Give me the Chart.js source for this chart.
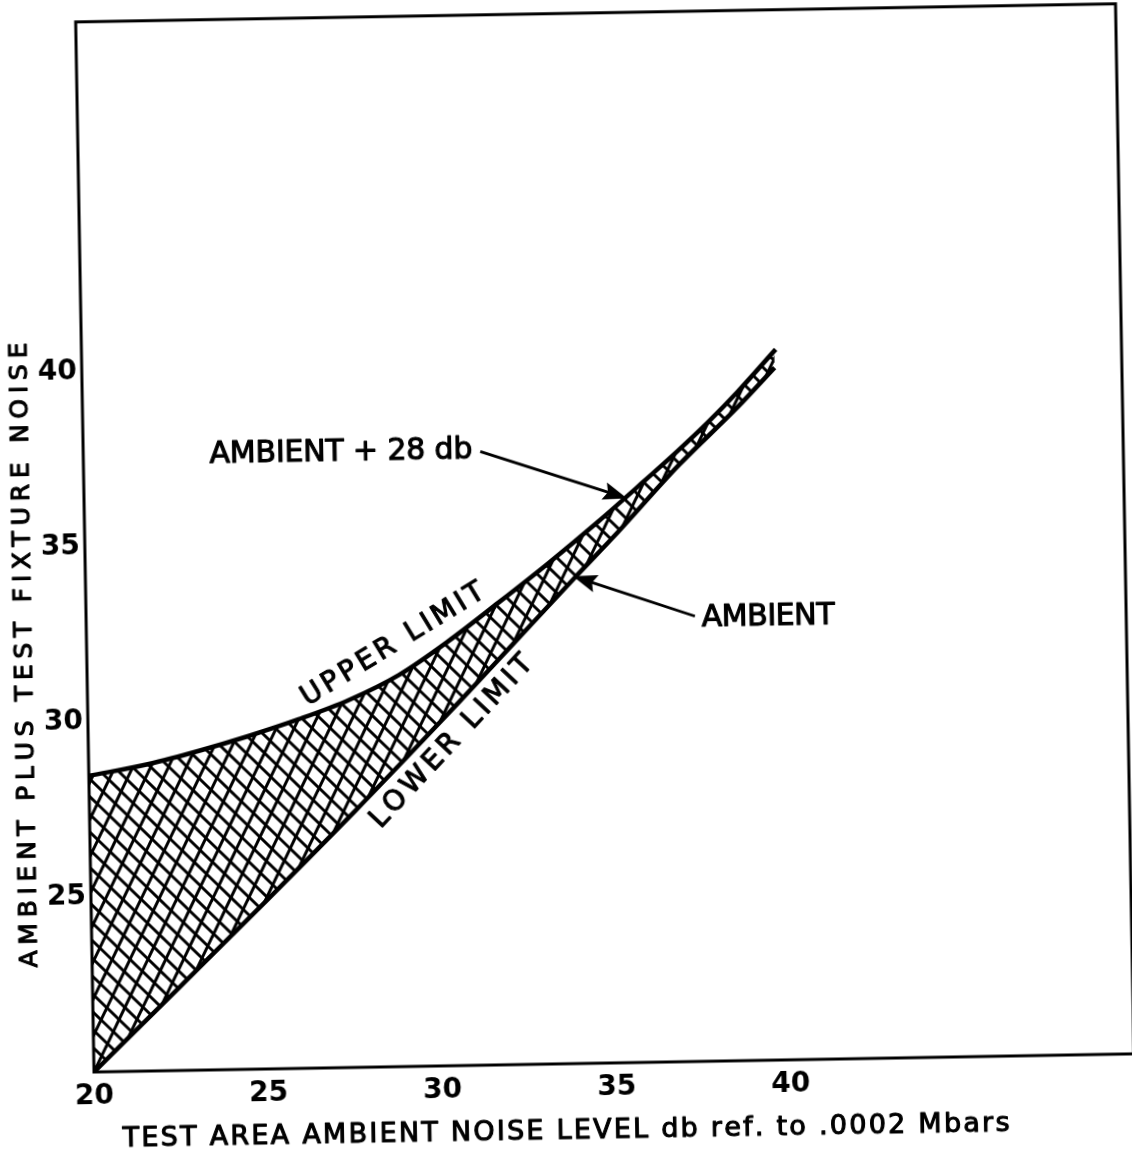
<!DOCTYPE html>
<html><head><meta charset="utf-8">
<script src="https://cdn.jsdelivr.net/npm/chart.js@4/dist/chart.umd.min.js"></script>
<style>
html,body{margin:0;padding:0;background:#fff;overflow:hidden;width:1132px;height:1152px;}
#wrap{position:absolute;left:0;top:0;width:1180px;height:1160px;transform-origin:94px 1072px;transform:rotate(-1deg);}
canvas{display:block;}
</style></head><body>
<div id="wrap"><canvas id="c" width="1180" height="1160"></canvas></div>
<script>
// ---- data ----
const xTicks = [20, 25, 30, 35, 40];
const yTicks = [25, 30, 35, 40];
const upperX = [20.0, 21.73, 23.17, 24.61, 26.05, 27.49, 28.94, 30.39, 31.84, 33.29, 34.75, 35.91, 37.07, 37.95, 38.82, 39.93];
const upperY = [28.46, 28.77, 29.12, 29.52, 29.97, 30.49, 31.18, 32.13, 33.20, 34.30, 35.47, 36.45, 37.45, 38.25, 39.11, 40.30];
const ambientX = [20.0, 22.48, 25.10, 27.64, 29.27, 30.64, 32.19, 34.06, 35.32, 37.07, 38.81, 39.89];
const ambientY = [20.0, 22.36, 24.87, 27.34, 28.97, 30.36, 31.96, 33.89, 35.17, 37.02, 38.67, 39.78];
const xTitle = 'TEST AREA AMBIENT NOISE LEVEL db ref. to .0002 Mbars';
const yTitle = 'AMBIENT PLUS TEST FIXTURE NOISE';
const noteTexts = ['AMBIENT + 28 db', 'AMBIENT', 'UPPER LIMIT', 'LOWER LIMIT'];

// ---- annotation placement (data coordinates) ----
const notes = [
  {t: 0, x: 27.40, y: 37.57, rot: 0, w: 263, size: 30},
  {t: 1, x: 39.58, y: 32.66, rot: 0, w: 133, size: 30},
  {t: 2, x: 28.80, y: 32.05, rot: -30.6, w: 210, size: 28},
  {t: 3, x: 30.44, y: 29.25, rot: -46, w: 225, size: 28}
];
const arrows = [
  {from: [31.40, 37.53], to: [35.59, 36.12]},
  {from: [37.48, 32.72], to: [34.00, 33.92]}
];

const FONT = '"DejaVu Sans", sans-serif';
const canvas = document.getElementById('c');
const ctx0 = canvas.getContext('2d');

function makeHatch() {
  const T = 36;
  const p = document.createElement('canvas');
  p.width = T; p.height = T;
  const g = p.getContext('2d');
  g.strokeStyle = '#000'; g.lineWidth = 3;
  for (let k = -2; k <= 5; k++) { g.beginPath(); g.moveTo(-T, T * k + 2 * T); g.lineTo(2 * T, T * k - 4 * T); g.stroke(); }
  for (let m = -5; m <= 5; m++) { g.beginPath(); g.moveTo(-T, -T - (T / 2) * m); g.lineTo(2 * T, 2 * T - (T / 2) * m); g.stroke(); }
  return ctx0.createPattern(p, 'repeat');
}

function spaced(ctx, text, cx, cy, width, rot, size) {
  ctx.save();
  ctx.translate(cx, cy);
  ctx.rotate(rot * Math.PI / 180);
  ctx.font = size + 'px ' + FONT;
  ctx.textBaseline = 'middle'; ctx.textAlign = 'left';
  ctx.fillStyle = '#000'; ctx.strokeStyle = '#000'; ctx.lineWidth = 1.1; ctx.lineJoin = 'round';
  const chars = [...text];
  const ws = chars.map(c => ctx.measureText(c).width);
  const nat = ws.reduce((a, b) => a + b, 0);
  const gap = (width - nat) / (chars.length - 1);
  let x = -width / 2;
  chars.forEach((c, i) => { ctx.fillText(c, x, 0); ctx.strokeText(c, x, 0); x += ws[i] + gap; });
  ctx.restore();
}

const decor = {
  id: 'decor',
  afterDatasetsDraw(chart) {
    const ctx = chart.ctx, a = chart.chartArea, sx = chart.scales.x, sy = chart.scales.y;
    ctx.save();
    ctx.strokeStyle = '#000'; ctx.lineWidth = 3;
    ctx.strokeRect(a.left, a.top, a.right - a.left, a.bottom - a.top);
    notes.forEach(n => spaced(ctx, noteTexts[n.t], sx.getPixelForValue(n.x), sy.getPixelForValue(n.y), n.w, n.rot, n.size));
    arrows.forEach(ar => {
      const x1 = sx.getPixelForValue(ar.from[0]), y1 = sy.getPixelForValue(ar.from[1]);
      const x2 = sx.getPixelForValue(ar.to[0]), y2 = sy.getPixelForValue(ar.to[1]);
      const ang = Math.atan2(y2 - y1, x2 - x1);
      ctx.lineWidth = 2.8; ctx.fillStyle = '#000'; ctx.strokeStyle = '#000';
      ctx.beginPath(); ctx.moveTo(x1, y1); ctx.lineTo(x2 - 15 * Math.cos(ang), y2 - 15 * Math.sin(ang)); ctx.stroke();
      ctx.save(); ctx.translate(x2, y2); ctx.rotate(ang);
      ctx.beginPath(); ctx.moveTo(0, 0); ctx.lineTo(-24, -9); ctx.lineTo(-20, 0); ctx.lineTo(-24, 9); ctx.closePath(); ctx.fill();
      ctx.restore();
    });
    spaced(ctx, xTitle, 565, 1140, 887, 0, 27);
    spaced(ctx, yTitle, 32, 654, 625, -90, 25);
    ctx.restore();
  }
};

const tickFont = {family: FONT, size: 28, weight: 'bold'};

new Chart(canvas, {
  type: 'line',
  data: {
    datasets: [
      {
        label: 'UPPER LIMIT',
        data: upperX.map((x, i) => ({x: x, y: upperY[i]})),
        borderColor: '#000', borderWidth: 4.5, pointRadius: 0,
        cubicInterpolationMode: 'monotone',
        fill: '+1', backgroundColor: makeHatch()
      },
      {
        label: 'AMBIENT',
        data: ambientX.map((x, i) => ({x: x, y: ambientY[i]})),
        borderColor: '#000', borderWidth: 4.5, pointRadius: 0,
        cubicInterpolationMode: 'monotone', fill: false
      }
    ]
  },
  options: {
    responsive: false, maintainAspectRatio: false, devicePixelRatio: 1, animation: false,
    layout: {padding: {top: 19, right: 46, left: 0, bottom: 0}},
    plugins: {legend: {display: false}, tooltip: {enabled: false}},
    scales: {
      x: {
        type: 'linear', min: 20, max: 49.86,
        afterBuildTicks: s => { s.ticks = xTicks.map(v => ({value: v})); },
        afterFit: s => { s.height = 88; },
        grid: {display: false, drawTicks: false}, border: {display: false},
        ticks: {font: tickFont, color: '#000', padding: 8, maxRotation: 0, autoSkip: false}
      },
      y: {
        type: 'linear', min: 20, max: 50,
        afterBuildTicks: s => { s.ticks = yTicks.map(v => ({value: v})); },
        afterFit: s => { s.width = 94; },
        grid: {display: false, drawTicks: false}, border: {display: false},
        ticks: {font: tickFont, color: '#000', padding: 5, autoSkip: false}
      }
    }
  },
  plugins: [decor]
});
</script>
</body></html>
